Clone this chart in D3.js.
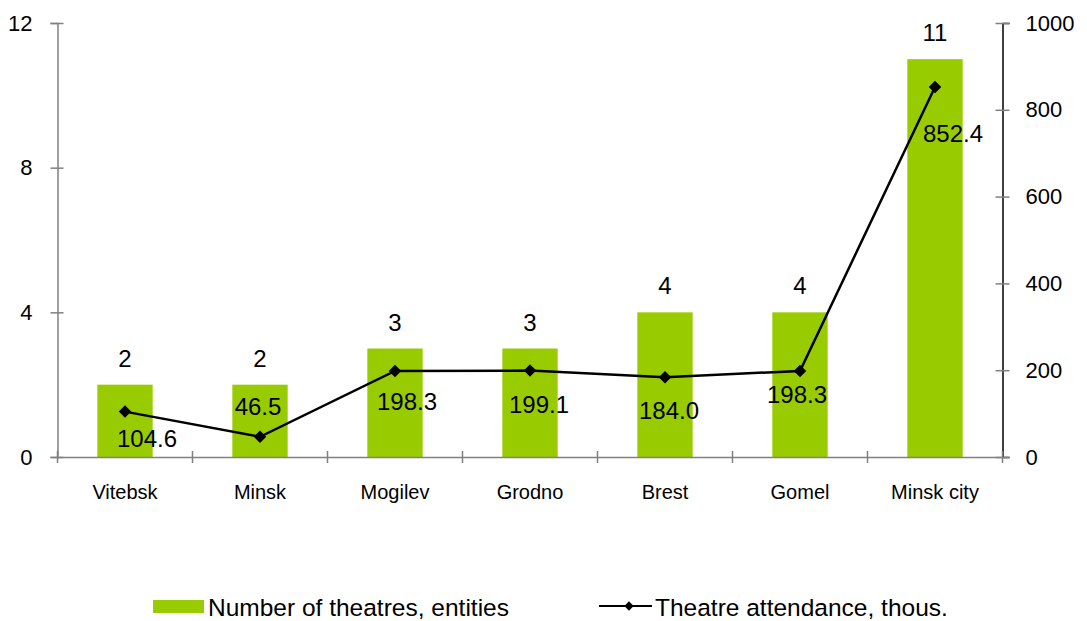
<!DOCTYPE html>
<html>
<head>
<meta charset="utf-8">
<script src="https://cdn.jsdelivr.net/npm/d3@7"></script>
<style>
  body { margin: 0; background: #fff; }
  svg { font-family: "Liberation Sans", Arial, sans-serif; }
</style>
</head>
<body>
<svg id="chart" width="1087" height="621"></svg>
<script>
// chart data
var regions = ["Vitebsk", "Minsk", "Mogilev", "Grodno", "Brest", "Gomel", "Minsk city"];
var theatres = [2, 2, 3, 3, 4, 4, 11];
var attendance = [104.6, 46.5, 198.3, 199.1, 184.0, 198.3, 852.4];
var leftTicks = [0, 4, 8, 12];
var rightTicks = [0, 200, 400, 600, 800, 1000];

// hand placed label nudges (like the excel chart), [dx, dy] from the point
var labelNudge = [[22, 35], [-2, -22], [12, 39], [9, 42], [4, 42], [-3, 32], [18, 55]];

var svg = d3.select("#chart");

var plotLeft = 57.5, plotRight = 1002.5, plotTop = 23, plotBottom = 457;

var x = d3.scaleBand()
	.domain(regions)
	.range([plotLeft, plotRight])
	.paddingInner(0.59)
	.paddingOuter(0.295);
var yL = d3.scaleLinear().domain([0, 12]).range([plotBottom, plotTop]);
var yR = d3.scaleLinear().domain([0, 1000]).range([plotBottom, plotTop]);

var axisGrey = "#808080";

// bars
svg.selectAll("rect.bar")
	.data(theatres)
	.enter().append("rect")
	.attr("class", "bar")
	.attr("x", function(d, i) { return x(regions[i]); })
	.attr("y", function(d) { return yL(d); })
	.attr("width", x.bandwidth())
	.attr("height", function(d) { return yL(0) - yL(d); })
	.attr("fill", "#99cc00");

// left axis
var gL = svg.append("g")
	.attr("transform", "translate(" + plotLeft + ",0)")
	.call(d3.axisLeft(yL).tickValues(leftTicks).tickSize(7).tickPadding(18));
gL.select(".domain").attr("stroke", axisGrey).attr("stroke-width", 1.5);
gL.selectAll(".tick line").attr("x1", 6).attr("x2", -7).attr("stroke", axisGrey).attr("stroke-width", 1.5);
gL.selectAll(".tick text").attr("font-size", 22).attr("fill", "#000");

// right axis
var gR = svg.append("g")
	.attr("transform", "translate(" + plotRight + ",0)")
	.call(d3.axisRight(yR).tickValues(rightTicks).tickFormat(d3.format("d")).tickSize(7).tickPadding(16));
gR.select(".domain").attr("stroke", "#000").attr("stroke-width", 1.5);
gR.selectAll(".tick line").attr("x1", -7).attr("x2", 7).attr("stroke", axisGrey).attr("stroke-width", 1.5);
gR.selectAll(".tick text").attr("font-size", 22).attr("fill", "#000");

// bottom axis, labels under categories and ticks between them
var gB = svg.append("g")
	.attr("transform", "translate(0," + plotBottom + ")")
	.call(d3.axisBottom(x).tickSize(0).tickPadding(28));
gB.select(".domain").attr("stroke", axisGrey).attr("stroke-width", 1.5);
gB.selectAll(".tick text").attr("font-size", 20).attr("fill", "#000");

var bounds = d3.range(regions.length + 1).map(function(k) {
	return plotLeft + k * x.step();
});
gB.selectAll("line.sep")
	.data(bounds)
	.enter().append("line")
	.attr("class", "sep")
	.attr("x1", function(d) { return d; })
	.attr("x2", function(d) { return d; })
	.attr("y1", -6)
	.attr("y2", 6)
	.attr("stroke", axisGrey)
	.attr("stroke-width", 1.5);

// bar value labels
svg.selectAll("text.barlab")
	.data(theatres)
	.enter().append("text")
	.attr("class", "barlab")
	.attr("x", function(d, i) { return x(regions[i]) + x.bandwidth() / 2; })
	.attr("y", function(d) { return yL(d) - 18; })
	.attr("text-anchor", "middle")
	.attr("font-size", 24)
	.text(function(d) { return d; });

// attendance line
var cx = function(i) { return x(regions[i]) + x.bandwidth() / 2; };
var line = d3.line()
	.x(function(d, i) { return cx(i); })
	.y(function(d) { return yR(d); });

svg.append("path")
	.attr("d", line(attendance))
	.attr("fill", "none")
	.attr("stroke", "#000")
	.attr("stroke-width", 2.5);

var diamond = d3.symbol().type(d3.symbolDiamond2).size(100);
svg.selectAll("path.mark")
	.data(attendance)
	.enter().append("path")
	.attr("class", "mark")
	.attr("d", diamond)
	.attr("transform", function(d, i) { return "translate(" + cx(i) + "," + yR(d) + ")"; })
	.attr("fill", "#000");

svg.selectAll("text.linelab")
	.data(attendance)
	.enter().append("text")
	.attr("class", "linelab")
	.attr("x", function(d, i) { return cx(i) + labelNudge[i][0]; })
	.attr("y", function(d, i) { return yR(d) + labelNudge[i][1]; })
	.attr("text-anchor", "middle")
	.attr("font-size", 24)
	.text(function(d) { return d.toFixed(1); });

// legend
var legend = svg.append("g");
legend.append("rect")
	.attr("x", 153).attr("y", 600)
	.attr("width", 51).attr("height", 13)
	.attr("fill", "#99cc00");
legend.append("text")
	.attr("x", 208).attr("y", 616)
	.attr("font-size", 24.5)
	.text("Number of theatres, entities");

legend.append("line")
	.attr("x1", 599).attr("x2", 652)
	.attr("y1", 606).attr("y2", 606)
	.attr("stroke", "#000")
	.attr("stroke-width", 2);
legend.append("path")
	.attr("d", d3.symbol().type(d3.symbolDiamond2).size(55))
	.attr("transform", "translate(629,606)")
	.attr("fill", "#000");
legend.append("text")
	.attr("x", 655).attr("y", 616)
	.attr("font-size", 24.5)
	.text("Theatre attendance, thous.");
</script>
</body>
</html>
